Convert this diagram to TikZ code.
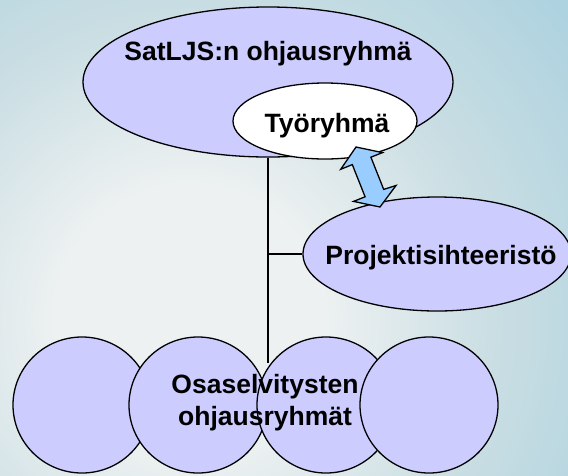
\documentclass[tikz,border=0pt]{standalone}
\usepackage{fontspec}
\setmainfont{Liberation Sans}
\usetikzlibrary{shapes.geometric}
\definecolor{lav}{HTML}{CCCCFF}
\definecolor{arrowblue}{HTML}{99CCFF}
\definecolor{bgin}{HTML}{EDF1F1}
\definecolor{bgmid}{HTML}{CADEE3}
\definecolor{bgout}{HTML}{A8D0DF}
\pgfdeclareradialshading{skyshade}{\pgfpointorigin}{color(0bp)=(bgin); color(8bp)=(bgin); color(18bp)=(bgmid); color(31bp)=(bgout); color(50bp)=(bgout)}
\begin{document}
\begin{tikzpicture}[x=1pt,y=-1pt,
  oval/.style={ellipse, draw=black, line width=1.3pt, fill=lav, inner sep=0pt},
  lbl/.style={font=\fontsize{26.5}{32}\selectfont\bfseries, inner sep=0pt},
  link/.style={line width=1.3pt}]
\useasboundingbox (0,0) rectangle (568,475);
\begin{scope}
  \clip (0,0) rectangle (568,475);
  \shade[shading=skyshade] (190-420,320-420) rectangle (190+420,320+420);
\end{scope}
% top group
\node[oval, minimum width=370pt, minimum height=150pt] (big) at (268,82) {};
\node[oval, fill=white, minimum width=184pt, minimum height=76pt] (tyo) at (325,121) {};
\node[lbl, anchor=base] (bigtxt) at (268,60) {SatLJS:n ohjausryhmä};
\node[lbl, anchor=base] (tyotxt) at (327,132) {Työryhmä};
% secretariat
\node[oval, minimum width=268pt, minimum height=114pt] (proj) at (437,254) {};
\node[lbl, anchor=base] (projtxt) at (441,264) {Projektisihteeristö};
% connectors
\coordinate (lineend) at (268,363);
\draw[link] (big.south) -- (lineend);
\draw[link] (proj.west) -- (proj.west -| big.south);
% sub groups
\foreach \i/\x in {1/82,2/198,3/326,4/429}
  \node[oval, minimum width=138pt, minimum height=136pt] (c\i) at (\x,405) {};
\node[lbl, align=center] (osa) at (265,403) {Osaselvitysten\\ohjausryhmät};
% double block arrow
\coordinate (ta) at (356,147);
\coordinate (tb) at (380,207);
\draw[line width=1.3pt, fill=arrowblue, line join=miter]
  (ta) -- (382.5,152.6) -- (370.9,157.2) -- (383.7,189.4) -- (396,185.5)
  -- (tb) -- (353.5,201.4) -- (365.1,196.8) -- (352.3,164.6) -- (340.7,169.3) -- cycle;
\end{tikzpicture}
\end{document}
